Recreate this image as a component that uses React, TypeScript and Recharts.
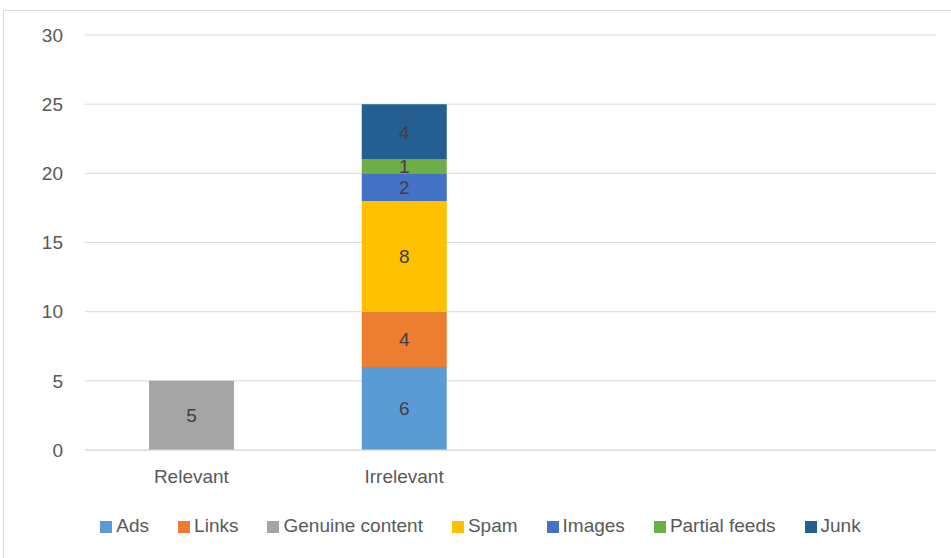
import { Bar, BarChart, CartesianGrid, LabelList, Legend, XAxis, YAxis } from "recharts";

// categories (last two are empty slots on the axis)
const categories = ["Relevant", "Irrelevant", "", ""];

const ads = [null, 6, null, null];
const links = [null, 4, null, null];
const genuine = [5, null, null, null];
const spam = [null, 8, null, null];
const images = [null, 2, null, null];
const partialFeeds = [null, 1, null, null];
const junk = [null, 4, null, null];

const yTicks = [0, 5, 10, 15, 20, 25, 30];

const series = [
  { key: "ads", name: "Ads", color: "#5B9BD5", values: ads },
  { key: "links", name: "Links", color: "#ED7D31", values: links },
  { key: "genuine", name: "Genuine content", color: "#A5A5A5", values: genuine },
  { key: "spam", name: "Spam", color: "#FFC000", values: spam },
  { key: "images", name: "Images", color: "#4472C4", values: images },
  { key: "partial", name: "Partial feeds", color: "#70AD47", values: partialFeeds },
  { key: "junk", name: "Junk", color: "#255E91", values: junk },
];

const data = categories.map((name, i) => {
  const row: Record<string, string | number | null> = { id: i, name };
  series.forEach((s) => {
    row[s.key] = s.values[i];
  });
  return row;
});

const font = "'Liberation Sans', Arial, sans-serif";

function App() {
  return (
    <div style={{ position: "absolute", left: 0, top: 0, width: 951, height: 558, background: "#fff", overflow: "hidden", fontFamily: font }}>
      <div style={{ position: "absolute", left: 3, top: 10, width: 960, height: 600, border: "1px solid #d9d9d9" }} />
      <BarChart
        width={951}
        height={558}
        data={data}
        margin={{ top: 35, right: 15, left: 0, bottom: 21 }}
        barSize={85}
        style={{ position: "absolute", left: 0, top: 0 }}
      >
        <CartesianGrid vertical={false} stroke="#d9d9d9" strokeWidth={1} />
        <XAxis
          dataKey="id"
          tickFormatter={(v: number) => categories[v]}
          tickLine={false}
          axisLine={{ stroke: "#d9d9d9" }}
          tickSize={0}
          tickMargin={20}
          height={65}
          tick={{ fill: "#595959", fontSize: 19, fontFamily: font }}
        />
        <YAxis
          domain={[0, 30]}
          ticks={yTicks}
          width={85}
          axisLine={false}
          tickLine={false}
          tickSize={0}
          tickMargin={22}
          tick={{ fill: "#595959", fontSize: 19, fontFamily: font }}
        />
        <Legend
          verticalAlign="bottom"
          iconType="square"
          iconSize={12}
          itemSorter={(item: { value: string }) => series.findIndex((s) => s.name === item.value)}
          wrapperStyle={{ fontSize: 19, fontFamily: font, left: 27 }}
          formatter={(value: string) => <span style={{ color: "#595959", marginRight: 19 }}>{value}</span>}
        />
        {series.map((s) => (
          <Bar key={s.key} dataKey={s.key} name={s.name} stackId="a" fill={s.color} isAnimationActive={false}>
            <LabelList dataKey={s.key} position="center" fill="#404040" fontSize={19} fontFamily={font} />
          </Bar>
        ))}
      </BarChart>
    </div>
  );
}

export default App;
